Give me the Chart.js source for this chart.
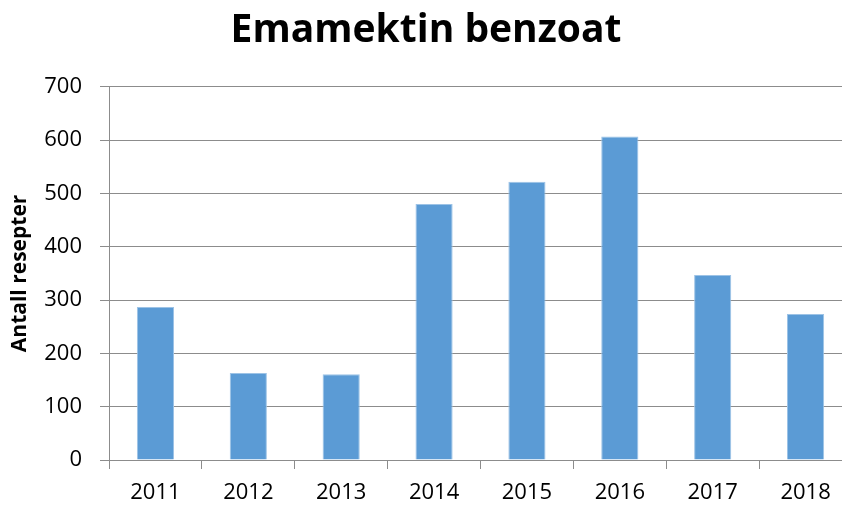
<!DOCTYPE html>
<html>
<head>
<meta charset="utf-8">
<script src="https://cdn.jsdelivr.net/npm/chart.js@4"></script>
<style>
  html, body { margin: 0; padding: 0; background: #fff; overflow: hidden; }
  #wrap { width: 852px; height: 507px; }
</style>
</head>
<body>
<div id="wrap"><canvas id="bar-chart" width="852" height="507"></canvas></div>
<script>
// år og antall resepter
var aar = ['2011', '2012', '2013', '2014', '2015', '2016', '2017', '2018'];
var antall = [287, 163, 161, 480, 522, 607, 347, 274];
var yTicks = [0, 100, 200, 300, 400, 500, 600, 700];

var fontFam = "'Open Sans', 'Noto Sans', sans-serif";
var grid = '#8c8c8c';

var ctx = document.getElementById('bar-chart').getContext('2d');
var chart = new Chart(ctx, {
  type: 'bar',
  data: {
    labels: aar,
    datasets: [{
      label: 'Antall resepter',
      data: antall,
      backgroundColor: '#5b9bd5',
      borderColor: '#9dc3e6',
      borderWidth: 1,
      categoryPercentage: 1,
      barPercentage: 0.4
    }]
  },
  options: {
    responsive: false,
    animation: false,
    layout: { padding: { left: 0, right: 0, top: 0, bottom: 0 } },
    plugins: {
      legend: { display: false },
      tooltip: { enabled: false },
      title: {
        display: true,
        text: 'Emamektin benzoat',
        color: '#000',
        font: { family: fontFam, size: 39, weight: 'bold' },
        padding: { top: 7, bottom: 33 }
      }
    },
    scales: {
      x: {
        offset: true,
        afterFit: function (s) { s.height = 47; },
        grid: {
          offset: true,
          drawOnChartArea: false,
          drawTicks: true,
          tickLength: 9,
          color: grid
        },
        border: { color: grid, width: 1 },
        ticks: {
          color: '#000',
          padding: 11,
          maxRotation: 0,
          font: { family: fontFam, size: 22 }
        }
      },
      y: {
        min: 0,
        max: 700,
        afterFit: function (s) { s.width = 109; },
        afterBuildTicks: function (s) {
          s.ticks = yTicks.map(function (v) { return { value: v }; });
        },
        grid: {
          color: grid,
          drawTicks: true,
          tickLength: 9
        },
        border: { color: grid, width: 1 },
        ticks: {
          color: '#000',
          padding: 18,
          font: { family: fontFam, size: 22 }
        },
        title: {
          display: true,
          text: 'Antall resepter',
          color: '#000',
          font: { family: fontFam, size: 21, weight: 'bold' },
          padding: { top: 7, bottom: 0 }
        }
      }
    }
  }
});
</script>
</body>
</html>
